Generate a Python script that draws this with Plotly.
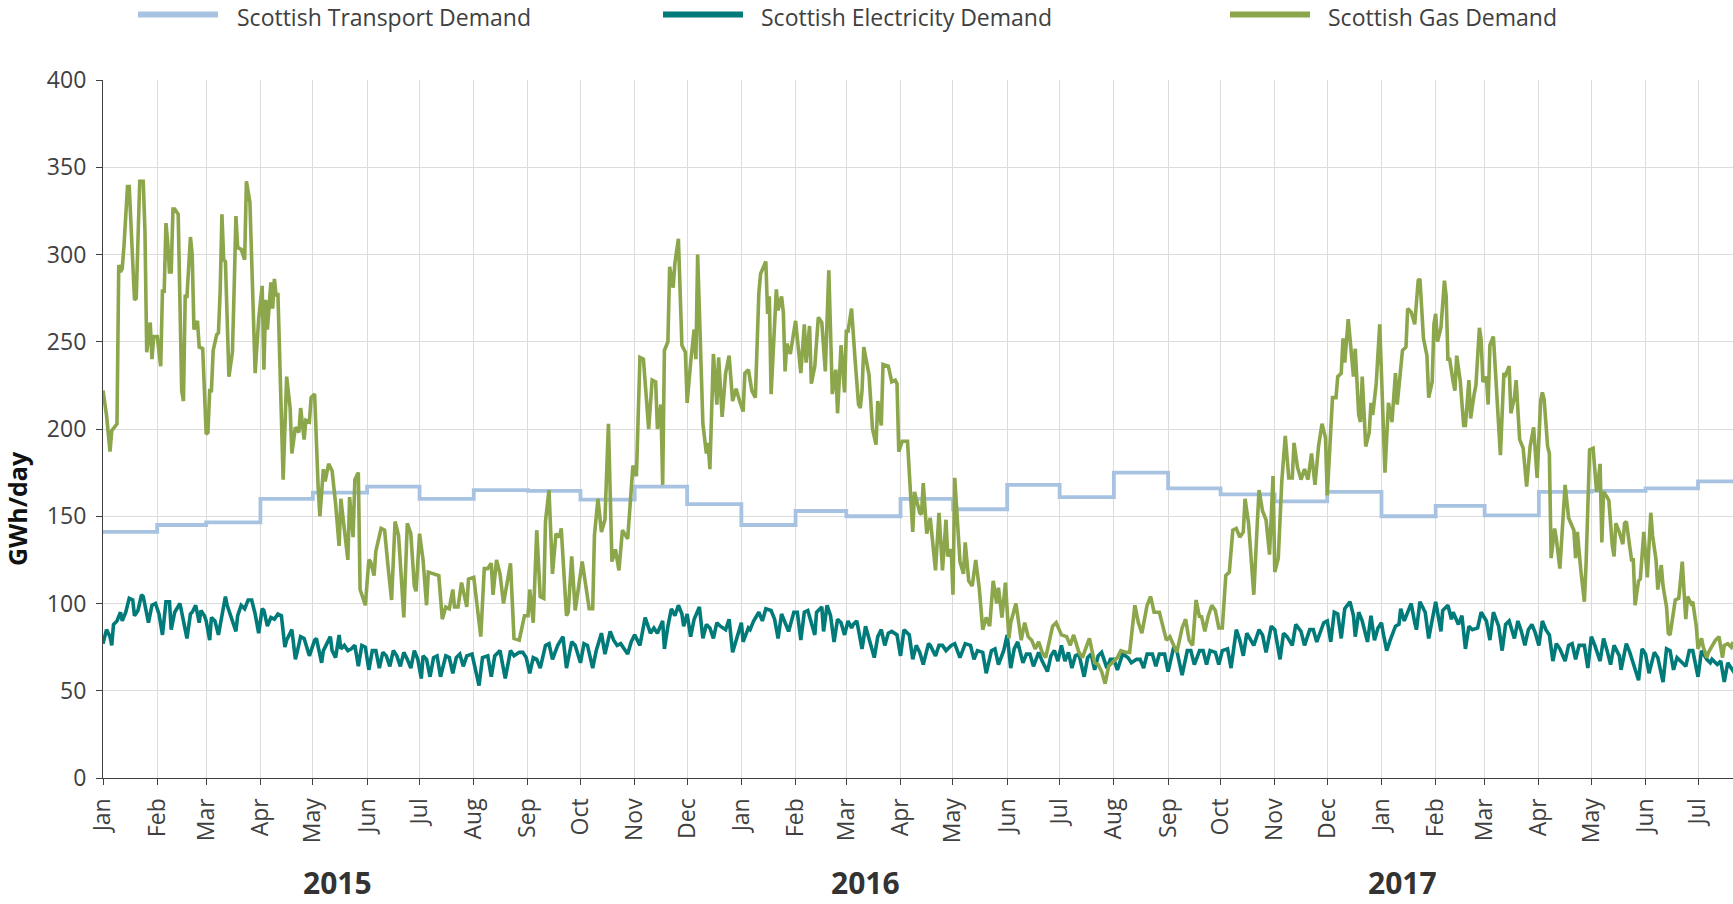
import pandas as pd
import plotly.graph_objects as go

# ---------------- data ----------------
BASE = "2015-01-01"
X_END = "2017-07-21"

transport_months = pd.date_range("2015-01-01", periods=31, freq="MS")
transport_values = [141, 145, 146.5, 160, 163.5, 167, 160, 165, 164.5, 159.5, 167, 157,
                    145, 153, 150, 160, 154, 168, 161, 175, 166, 162.5, 158.5, 164,
                    150, 156, 150.5, 164, 164.5, 166, 170]

elec_day = [0, 2, 4, 5, 6, 8, 10, 11, 13, 15, 17, 18, 20, 22, 23, 25, 26, 28, 30, 32, 34, 36, 38, 39, 41, 44, 46, 48, 50, 51,
            53, 55, 56, 58, 59, 61, 62, 64, 66, 68, 70, 71, 73, 76, 77, 79, 81, 83, 85, 87, 89, 91, 92, 94, 96, 98, 100, 102, 104, 105,
            108, 110, 111, 113, 115, 116, 118, 121, 122, 125, 126, 128, 130, 131, 133, 135, 136, 138, 140, 142, 144, 146, 148, 150, 152, 154, 156, 158, 160, 162,
            164, 166, 168, 170, 172, 174, 176, 178, 180, 182, 183, 185, 187, 189, 191, 193, 196, 198, 200, 202, 204, 206, 208, 211, 215, 217, 220, 222, 224, 227,
            228, 230, 233, 235, 238, 240, 242, 244, 246, 248, 250, 253, 255, 257, 260, 263, 265, 268, 270, 273, 275, 277, 280, 282, 285, 287, 290, 292, 294, 296,
            300, 302, 304, 307, 310, 312, 313, 315, 317, 320, 321, 323, 325, 327, 329, 331, 332, 334, 336, 338, 340, 341, 343, 345, 347, 349, 351, 353, 356, 358,
            360, 363, 365, 366, 369, 370, 372, 375, 377, 379, 382, 384, 386, 388, 390, 392, 395, 397, 399, 401, 403, 405, 407, 408, 411, 412, 414, 416, 418, 420,
            422, 424, 426, 428, 429, 431, 434, 436, 437, 441, 443, 445, 447, 449, 451, 454, 456, 458, 461, 463, 465, 467, 469, 472, 473, 476, 478, 480, 482, 485,
            487, 488, 490, 493, 496, 498, 500, 503, 505, 508, 510, 512, 515, 517, 519, 521, 523, 526, 528, 530, 532, 535, 537, 540, 542, 544, 546, 548, 550, 552,
            554, 556, 558, 561, 563, 565, 567, 569, 571, 574, 576, 578, 580, 583, 586, 588, 591, 593, 595, 597, 600, 602, 604, 607, 609, 612, 614, 617, 620, 622,
            624, 627, 629, 631, 633, 636, 638, 640, 643, 645, 648, 650, 652, 654, 657, 658, 661, 663, 665, 668, 670, 673, 675, 677, 680, 682, 685, 687, 690, 692,
            694, 698, 700, 702, 704, 706, 708, 710, 713, 715, 716, 718, 720, 723, 725, 727, 729, 731, 732, 734, 736, 739, 741, 742, 744, 746, 748, 750, 751, 753,
            756, 758, 760, 762, 765, 766, 769, 771, 772, 775, 777, 779, 781, 783, 786, 788, 791, 793, 795, 798, 800, 802, 804, 807, 809, 811, 813, 815, 817, 819,
            821, 823, 825, 827, 829, 831, 833, 836, 838, 840, 842, 844, 847, 849, 851, 853, 856, 858, 860, 862, 864, 867, 868, 871, 873, 876, 878, 880, 882, 884,
            887, 889, 892, 894, 896, 898, 900, 903, 905, 907, 909, 912, 914, 917, 919, 920, 923, 925, 927, 929, 931, 933]
elec_values = [77, 85, 81, 76, 88, 90, 95, 90, 95, 103, 102, 93, 96, 105, 104, 95, 89, 99, 100, 94, 82, 101, 101, 85, 95, 100, 89, 80, 94, 95,
               99, 89, 96, 93, 90, 79, 92, 90, 82, 93, 104, 99, 93, 84, 93, 99, 97, 102, 102, 94, 83, 97, 96, 87, 92, 91, 94, 93, 75, 79,
               85, 68, 72, 81, 80, 76, 70, 79, 80, 66, 73, 77, 81, 73, 69, 82, 74, 76, 73, 74, 76, 64, 76, 75, 62, 73, 73, 63, 72, 70,
               64, 73, 70, 64, 72, 68, 63, 73, 68, 57, 70, 68, 58, 69, 70, 58, 70, 69, 60, 69, 71, 64, 70, 71, 53, 69, 70, 58, 70, 73,
               68, 57, 73, 70, 72, 72, 69, 60, 69, 68, 63, 76, 77, 68, 76, 81, 63, 78, 76, 66, 77, 76, 63, 73, 83, 71, 84, 79, 76, 77,
               71, 78, 82, 76, 92, 85, 83, 86, 83, 90, 74, 87, 97, 93, 99, 94, 87, 94, 81, 91, 95, 98, 80, 88, 86, 80, 89, 87, 85, 91,
               72, 83, 89, 78, 86, 85, 90, 95, 90, 97, 96, 91, 80, 94, 89, 84, 95, 95, 79, 95, 96, 89, 82, 95, 98, 84, 99, 93, 78, 91,
               89, 82, 90, 86, 88, 90, 74, 87, 83, 69, 81, 85, 76, 83, 84, 82, 70, 85, 82, 68, 76, 72, 65, 77, 76, 70, 76, 76, 73, 76,
               77, 74, 69, 77, 76, 68, 73, 72, 60, 73, 74, 65, 73, 82, 63, 74, 78, 66, 71, 71, 64, 72, 67, 61, 70, 73, 67, 76, 67, 72,
               63, 70, 71, 58, 69, 71, 62, 70, 72, 63, 68, 68, 62, 71, 69, 66, 68, 68, 63, 71, 71, 64, 71, 71, 61, 74, 73, 59, 73, 73,
               65, 73, 73, 65, 73, 72, 65, 73, 74, 63, 85, 79, 70, 83, 78, 76, 85, 82, 72, 87, 85, 68, 83, 81, 76, 88, 84, 76, 85, 85,
               78, 89, 90, 78, 95, 94, 80, 97, 101, 93, 81, 95, 90, 78, 93, 79, 86, 89, 83, 73, 79, 87, 88, 97, 90, 95, 100, 89, 85, 101,
               95, 80, 92, 101, 84, 96, 99, 91, 95, 88, 93, 74, 87, 85, 86, 95, 90, 79, 95, 87, 73, 88, 90, 80, 90, 84, 76, 85, 88, 83,
               76, 90, 85, 82, 67, 77, 74, 67, 76, 77, 68, 76, 76, 63, 81, 76, 67, 80, 73, 65, 76, 70, 62, 77, 72, 62, 56, 74, 71, 60,
               72, 69, 55, 74, 73, 62, 69, 66, 64, 73, 73, 58, 73, 68, 66, 68, 65, 67, 55, 66, 63, 60]

gas_day = [0, 2, 4, 5, 8, 9, 10, 11, 12, 14, 15, 18, 19, 21, 23, 24, 25, 27, 28, 29, 31, 33, 34, 35, 36, 37, 38, 39, 40, 41,
           43, 45, 46, 47, 48, 50, 51, 52, 54, 55, 57, 59, 60, 61, 62, 63, 65, 66, 67, 68, 69, 70, 72, 74, 75, 76, 77, 79, 81, 82,
           84, 85, 87, 89, 91, 92, 93, 94, 96, 97, 98, 99, 100, 103, 105, 107, 108, 110, 112, 113, 115, 116, 118, 119, 121, 123, 124, 126, 127, 129,
           131, 133, 135, 136, 138, 140, 141, 143, 144, 146, 147, 150, 152, 153, 155, 156, 159, 161, 163, 165, 167, 169, 172, 174, 176, 178, 179, 181, 183, 185,
           186, 190, 192, 194, 196, 198, 200, 201, 203, 205, 208, 209, 212, 216, 218, 220, 222, 223, 225, 227, 229, 233, 235, 238, 241, 243, 244, 246, 248, 250,
           252, 253, 255, 257, 259, 261, 262, 265, 266, 268, 270, 274, 278, 280, 281, 283, 285, 287, 289, 291, 293, 295, 297, 300, 303, 305, 307, 309, 312, 314,
           316, 317, 319, 320, 321, 323, 324, 326, 327, 329, 331, 333, 334, 336, 338, 339, 340, 343, 345, 346, 347, 349, 351, 352, 354, 356, 358, 360, 362, 364,
           366, 367, 369, 371, 373, 375, 376, 379, 380, 381, 382, 385, 386, 388, 389, 390, 391, 393, 396, 399, 401, 402, 404, 405, 407, 409, 411, 413, 415, 417,
           419, 420, 422, 424, 425, 426, 428, 430, 432, 433, 434, 435, 438, 440, 442, 443, 445, 446, 449, 451, 453, 454, 455, 457, 460, 463, 464, 467, 468, 469,
           471, 473, 476, 478, 480, 482, 483, 485, 486, 487, 490, 492, 493, 495, 497, 499, 501, 503, 505, 507, 509, 511, 512, 514, 516, 518, 519, 522, 525, 527,
           529, 531, 533, 535, 537, 539, 543, 545, 547, 548, 551, 553, 555, 558, 560, 562, 564, 567, 569, 571, 573, 575, 578, 580, 582, 585, 587, 589, 590, 592,
           594, 597, 599, 601, 604, 606, 608, 610, 612, 614, 617, 619, 621, 623, 625, 627, 628, 630, 632, 634, 636, 638, 640, 642, 644, 646, 648, 650, 652, 653,
           655, 658, 660, 661, 663, 665, 667, 669, 670, 672, 674, 676, 678, 680, 681, 683, 685, 687, 689, 691, 693, 695, 697, 699, 700, 702, 703, 705, 706, 708,
           709, 710, 712, 713, 715, 716, 718, 719, 720, 722, 724, 725, 726, 728, 730, 733, 735, 737, 739, 740, 742, 743, 745, 746, 748, 750, 752, 753, 755, 757,
           758, 760, 761, 762, 763, 765, 767, 768, 769, 770, 772, 773, 774, 775, 776, 778, 779, 781, 782, 784, 785, 787, 788, 789, 791, 792, 793, 795, 797, 799,
           801, 802, 804, 805, 807, 808, 810, 812, 814, 815, 816, 818, 820, 822, 823, 824, 826, 827, 828, 830, 831, 833, 835, 836, 838, 841, 842, 843, 845, 847,
           848, 850, 852, 854, 855, 856, 857, 858, 860, 861, 863, 864, 865, 867, 869, 870, 871, 874, 875, 876, 878, 879, 881, 882, 883, 885, 886, 888, 889, 891,
           892, 894, 895, 896, 898, 899, 901, 903, 904, 905, 906, 908, 909, 911, 912, 914, 915, 917, 918, 920, 922, 924, 925, 926, 927, 929, 931, 932]
gas_values = [222, 208, 187, 199, 203, 294, 290, 292, 305, 339, 339, 274, 275, 342, 342, 313, 244, 261, 240, 253, 253, 236, 279, 279, 318, 307, 290, 290, 326, 326,
              323, 222, 216, 276, 276, 310, 300, 257, 262, 247, 246, 197, 198, 222, 222, 245, 254, 255, 279, 323, 297, 296, 230, 244, 281, 322, 304, 303, 297, 342,
              330, 291, 232, 263, 282, 234, 274, 257, 284, 269, 286, 276, 278, 171, 230, 212, 186, 201, 198, 212, 194, 205, 204, 218, 220, 167, 150, 177, 170, 180,
              176, 157, 133, 160, 141, 125, 161, 138, 171, 175, 108, 99, 125, 124, 116, 130, 143, 142, 121, 102, 147, 139, 92, 146, 140, 110, 107, 140, 125, 99,
              118, 117, 116, 91, 98, 97, 108, 98, 98, 112, 98, 114, 115, 81, 120, 120, 123, 105, 125, 117, 100, 123, 80, 79, 93, 93, 108, 89, 142, 104,
              103, 147, 165, 117, 140, 138, 143, 93, 95, 127, 96, 124, 97, 97, 139, 160, 141, 148, 203, 124, 131, 119, 142, 137, 179, 173, 241, 240, 200, 228,
              227, 200, 214, 168, 245, 250, 293, 281, 295, 309, 248, 244, 215, 238, 257, 240, 300, 203, 186, 192, 177, 243, 214, 241, 207, 232, 242, 216, 223, 216,
              210, 232, 234, 222, 218, 278, 289, 296, 266, 276, 220, 280, 268, 276, 267, 233, 249, 243, 262, 232, 260, 238, 259, 226, 236, 264, 261, 233, 291, 220,
              234, 209, 248, 221, 256, 256, 269, 240, 214, 212, 222, 247, 231, 200, 191, 216, 202, 237, 236, 227, 228, 226, 187, 193, 193, 141, 164, 152, 151, 169,
              140, 149, 119, 152, 119, 148, 127, 131, 105, 172, 124, 117, 135, 113, 110, 125, 109, 85, 92, 87, 113, 100, 109, 92, 112, 80, 89, 100, 79, 89,
              81, 79, 74, 78, 72, 69, 87, 89, 84, 82, 81, 76, 82, 72, 69, 75, 80, 66, 65, 61, 54, 64, 67, 69, 73, 72, 72, 88, 99, 89,
              83, 99, 104, 95, 95, 87, 79, 81, 76, 72, 86, 91, 79, 76, 102, 92, 93, 84, 93, 99, 96, 86, 86, 116, 118, 142, 143, 138, 141, 160,
              146, 105, 146, 165, 153, 148, 128, 173, 118, 126, 170, 196, 172, 172, 192, 178, 171, 177, 171, 186, 168, 190, 203, 195, 162, 204, 218, 218, 230, 232,
              252, 238, 263, 252, 230, 246, 208, 204, 230, 190, 198, 215, 208, 226, 260, 175, 215, 204, 232, 214, 232, 245, 247, 269, 267, 260, 285, 286, 252, 242,
              218, 227, 260, 266, 250, 258, 285, 276, 240, 240, 227, 222, 242, 234, 228, 202, 202, 228, 206, 220, 225, 258, 251, 227, 230, 214, 248, 253, 216, 185,
              232, 231, 236, 209, 218, 228, 194, 189, 167, 182, 190, 201, 172, 216, 221, 217, 190, 186, 126, 143, 137, 120, 155, 168, 149, 142, 126, 141, 119, 101,
              123, 188, 189, 164, 171, 180, 135, 164, 161, 159, 133, 127, 146, 141, 134, 146, 147, 125, 125, 99, 113, 114, 141, 127, 115, 152, 139, 125, 108, 122,
              110, 98, 83, 82, 95, 102, 103, 124, 107, 91, 104, 100, 101, 87, 74, 80, 75, 69, 72, 76, 79, 81, 76, 69, 76, 77, 75, 78]

year_labels = ["2015", "2016", "2017"]
year_label_dates = ["2015-05-15", "2016-03-12", "2017-01-13"]

series_names = ["Scottish Transport Demand", "Scottish Electricity Demand", "Scottish Gas Demand"]
series_colors = ["#A7C3E1", "#007B79", "#8CA64B"]

# ---------------- figure ----------------
W, H = 1733, 904
ML, MR, MT, MB = 103, 0, 80, 126
PW = W - ML - MR
PH = H - MT - MB


def px_to_paper_x(px):
    return (px - ML) / PW


def px_to_paper_y(py):
    return (H - MB - py) / PH


base = pd.Timestamp(BASE)
elec_x = base + pd.to_timedelta(elec_day, unit="D")
gas_x = base + pd.to_timedelta(gas_day, unit="D")
trans_x = list(transport_months) + [pd.Timestamp(X_END)]
trans_y = transport_values + [transport_values[-1]]

fig = go.Figure()
fig.add_trace(go.Scatter(x=trans_x, y=trans_y, mode="lines", line=dict(color=series_colors[0], width=3.8, shape="hv"),
                         name=series_names[0]))
fig.add_trace(go.Scatter(x=elec_x, y=elec_values, mode="lines", line=dict(color=series_colors[1], width=3.6),
                         name=series_names[1]))
fig.add_trace(go.Scatter(x=gas_x, y=gas_values, mode="lines", line=dict(color=series_colors[2], width=3.6),
                         name=series_names[2]))

FONT = "Open Sans"
TXT = "#404040"

fig.update_layout(
    width=W, height=H,
    margin=dict(l=ML, r=MR, t=MT, b=MB, autoexpand=False),
    paper_bgcolor="white", plot_bgcolor="white",
    showlegend=False,
    font=dict(family=FONT, color=TXT),
)
fig.update_xaxes(
    type="date", range=[BASE, X_END],
    tick0=BASE, dtick="M1", tickformat="%b", tickangle=-90,
    ticks="outside", ticklen=6, tickcolor=TXT, tickwidth=1,
    showline=True, linecolor=TXT, linewidth=1.2,
    showgrid=True, gridcolor="#DCDCDC", gridwidth=1,
    tickfont=dict(family=FONT, size=23, color=TXT),
    ticklabelstandoff=4,
    zeroline=False, automargin=False,
)
fig.update_yaxes(
    range=[0, 400], tick0=0, dtick=50,
    ticks="outside", ticklen=6, tickcolor=TXT, tickwidth=1,
    showline=True, linecolor=TXT, linewidth=1.2,
    showgrid=True, gridcolor="#DCDCDC", gridwidth=1,
    tickfont=dict(family=FONT, size=23, color=TXT),
    ticklabelstandoff=5,
    zeroline=False, automargin=False,
)

annotations = []
shapes = []

# y axis title
annotations.append(dict(text="<b>GWh/day</b>", x=px_to_paper_x(17), y=px_to_paper_y(509), xref="paper", yref="paper",
                        textangle=-90, showarrow=False, font=dict(family=FONT, size=25, color="#111111"),
                        xanchor="center", yanchor="middle"))

# year labels
for lbl, d in zip(year_labels, year_label_dates):
    annotations.append(dict(text="<b>" + lbl + "</b>", x=d, y=px_to_paper_y(882), xref="x", yref="paper",
                            showarrow=False, font=dict(family=FONT, size=30, color="#333333"),
                            xanchor="center", yanchor="middle"))

# legend (manual)
legend_line_px = [(138, 218), (663, 743), (1230, 1310)]
legend_text_px = [235, 759, 1326]
legend_line_y = 14.5
legend_text_y = 16.5
for (x0, x1), tx, name, col in zip(legend_line_px, legend_text_px, series_names, series_colors):
    shapes.append(dict(type="line", xref="paper", yref="paper",
                       x0=px_to_paper_x(x0), x1=px_to_paper_x(x1),
                       y0=px_to_paper_y(legend_line_y), y1=px_to_paper_y(legend_line_y),
                       line=dict(color=col, width=6)))
    annotations.append(dict(text=name, x=px_to_paper_x(tx), y=px_to_paper_y(legend_text_y), xref="paper", yref="paper",
                            showarrow=False, font=dict(family=FONT, size=23, color=TXT),
                            xanchor="left", yanchor="middle"))

fig.update_layout(annotations=annotations, shapes=shapes)
fig.write_html("out.html", config={"displayModeBar": False},
               post_script="document.body.style.margin='0px';")
